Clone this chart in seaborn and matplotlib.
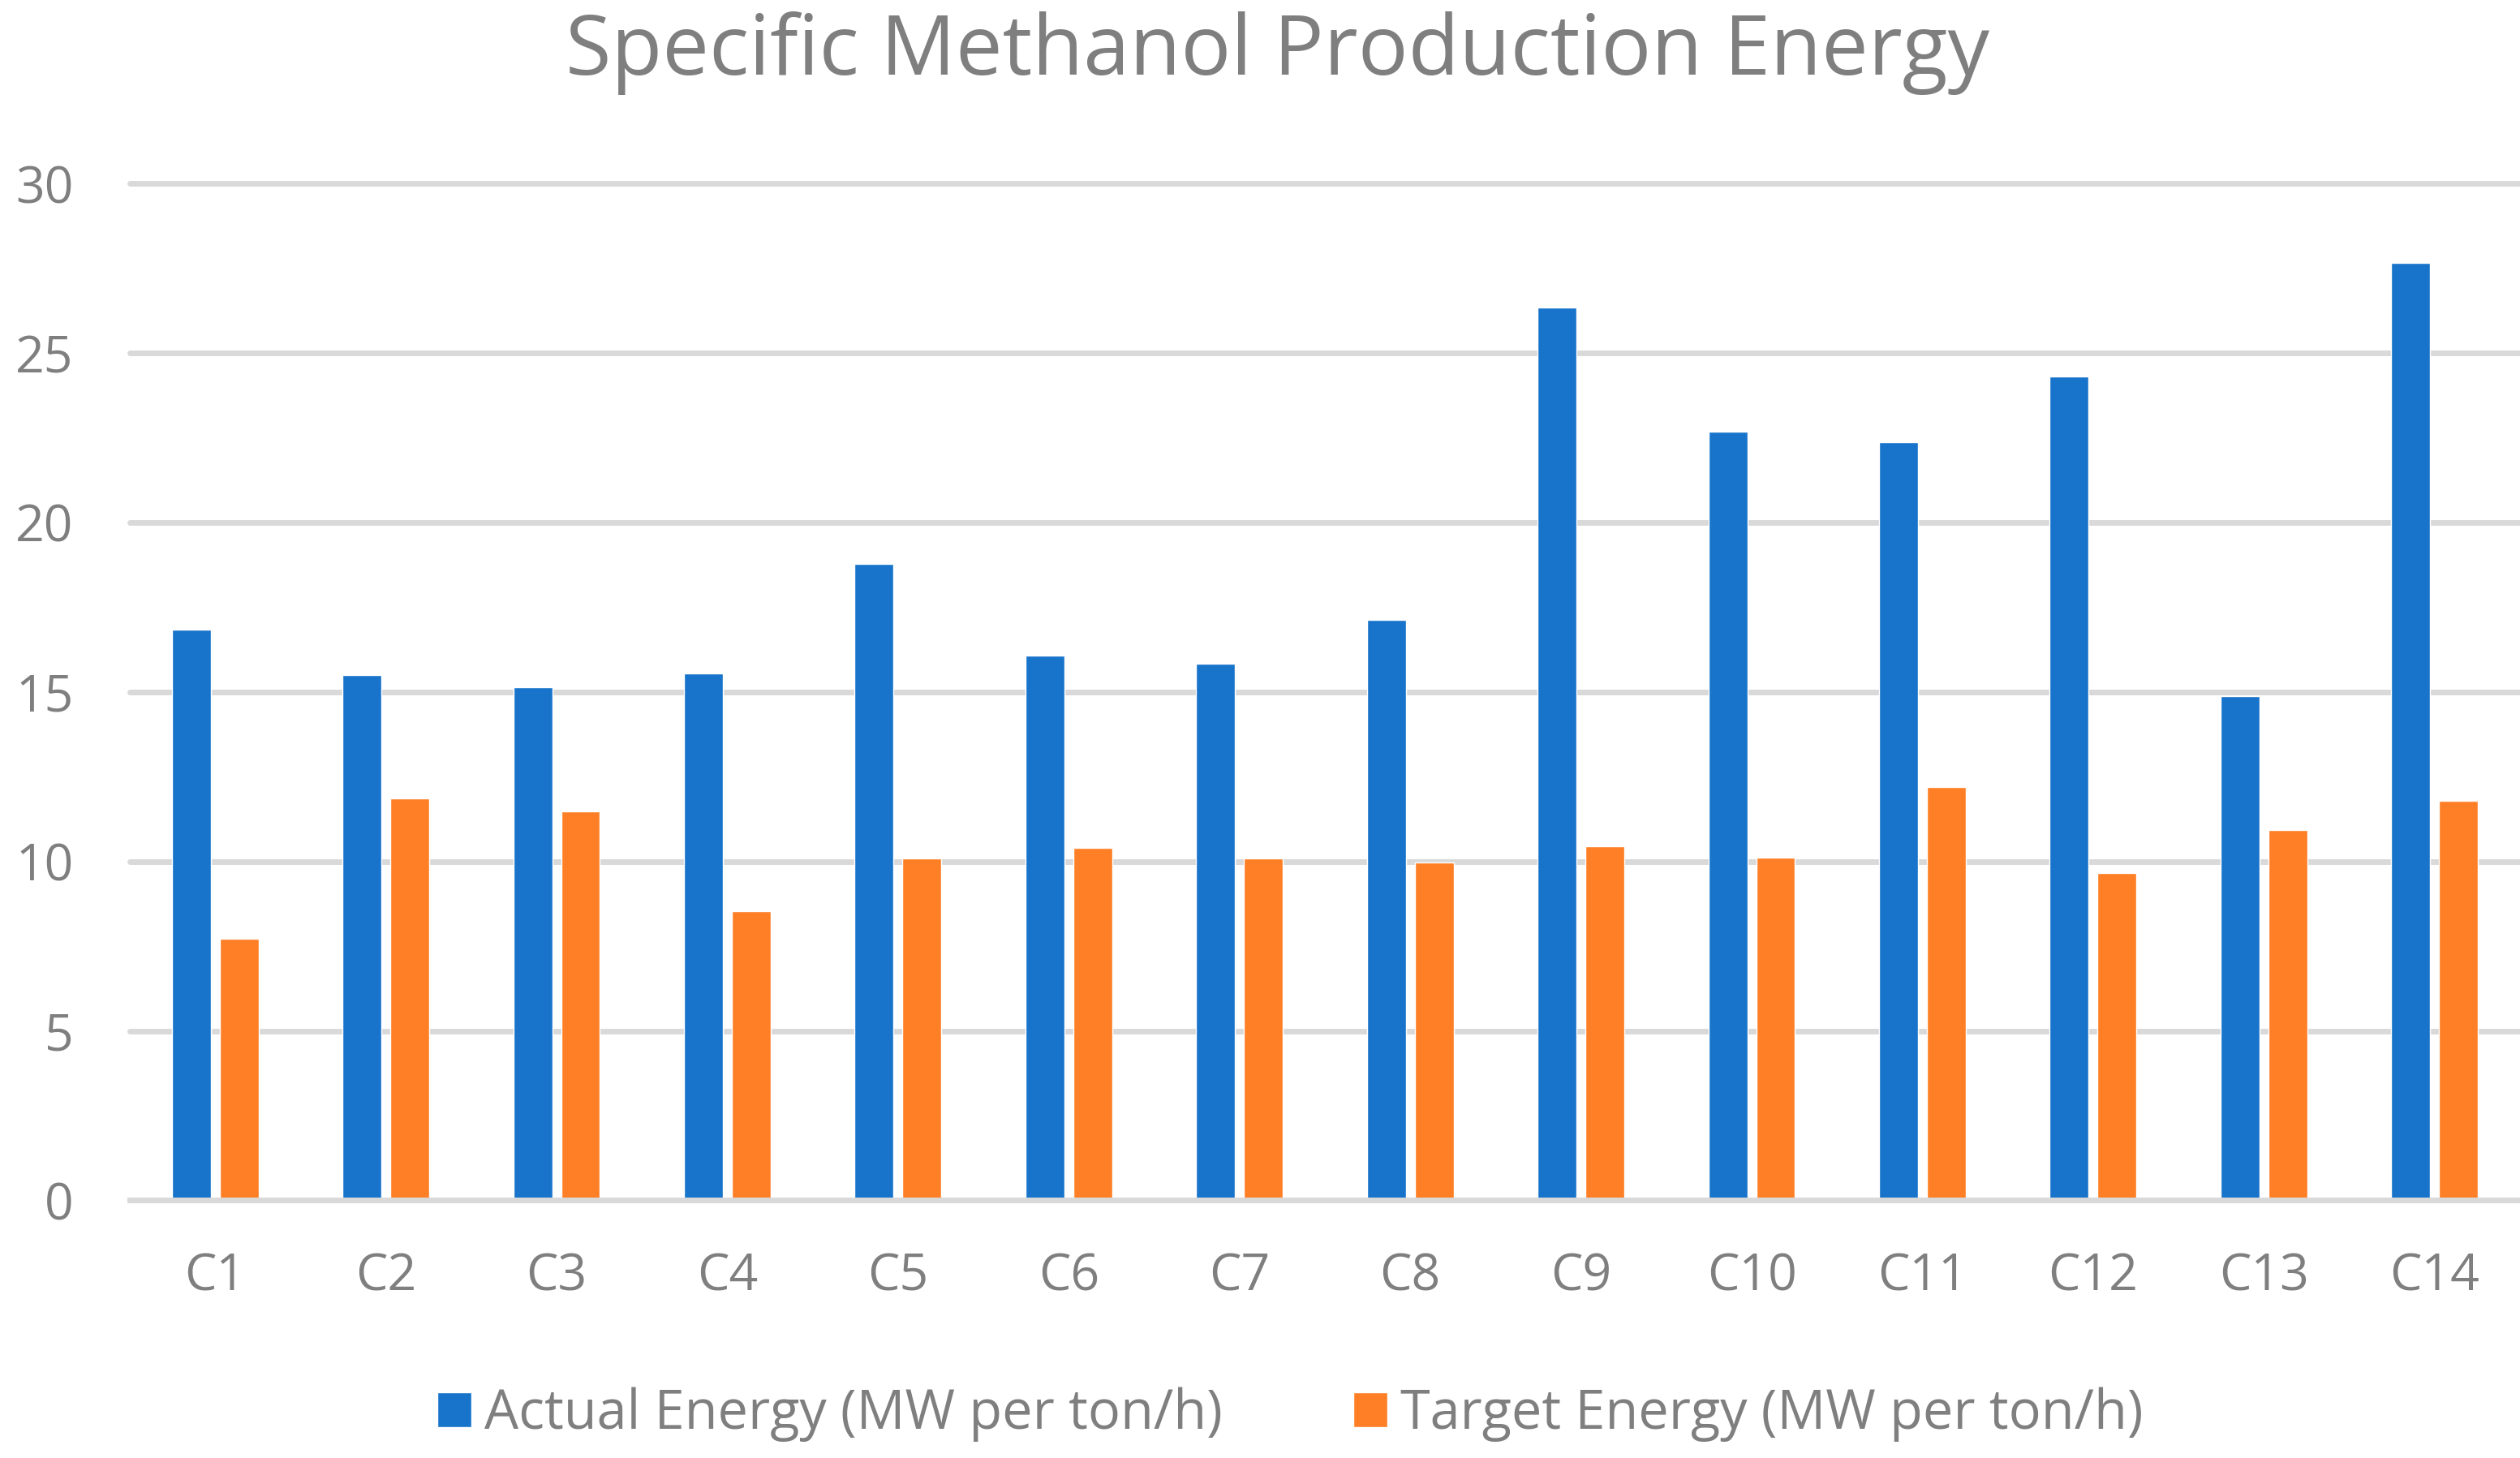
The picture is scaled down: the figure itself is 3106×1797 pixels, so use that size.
import matplotlib
matplotlib.use("Agg")
import matplotlib.pyplot as plt
import pandas as pd
import seaborn as sns

categories = [f"C{i}" for i in range(1, 15)]
actual_energy = [16.84, 15.50, 15.14, 15.55, 18.78, 16.08, 15.84,
                 17.14, 26.35, 22.68, 22.37, 24.31, 14.87, 27.67]
target_energy = [7.72, 11.86, 11.48, 8.53, 10.09, 10.40, 10.09,
                 9.96, 10.44, 10.11, 12.20, 9.67, 10.92, 11.78]
series_names = ["Actual Energy (MW per ton/h)", "Target Energy (MW per ton/h)"]
y_ticks = [0, 5, 10, 15, 20, 25, 30]

df = pd.DataFrame({
    "case": categories * 2,
    "series": [series_names[0]] * len(categories) + [series_names[1]] * len(categories),
    "energy": actual_energy + target_energy,
})

sns.set_theme(style="white")
plt.rcParams["font.family"] = ["Open Sans", "DejaVu Sans"]

TEXT = "#7f7f7f"
GRID = "#d9d9d9"

fig = plt.figure(figsize=(31.06, 17.97), dpi=100)
ax = fig.add_axes([0.0515, 0.1767, 0.9485, 0.6973])

sns.barplot(
    data=df, x="case", y="energy", hue="series", hue_order=series_names,
    order=categories, palette=["#1874cb", "#ff7f27"], width=0.56, gap=0.186,
    saturation=1, ax=ax,
)

ax.set_ylim(0, 30)
ax.set_xlim(-0.5, len(categories) - 0.5)
ax.set_yticks(y_ticks)
ax.set_xlabel("")
ax.set_ylabel("")
ax.set_axisbelow(True)
ax.grid(axis="y", color=GRID, linewidth=5)
ax.grid(axis="x", visible=False)
for line in ax.get_ygridlines():
    line.set_clip_on(False)

for side in ["top", "left", "right"]:
    ax.spines[side].set_visible(False)
ax.spines["bottom"].set_color(GRID)
ax.spines["bottom"].set_linewidth(5)

ax.tick_params(axis="y", length=0, pad=50, labelsize=45, labelcolor=TEXT)
ax.tick_params(axis="x", length=0, pad=46, labelsize=45, labelcolor=TEXT)

fig.suptitle("Specific Methanol Production Energy", x=0.507, y=0.992,
             fontsize=74, color=TEXT)

handles, labels = ax.get_legend_handles_labels()
ax.get_legend().remove()
fig.legend(handles, labels, loc="center", bbox_to_anchor=(0.512, 0.03), ncol=2,
           frameon=False, fontsize=48, labelcolor=TEXT, handlelength=0.63,
           handleheight=0.63, handletextpad=0.24, columnspacing=2.43)

fig.savefig("out.png", dpi=100)
